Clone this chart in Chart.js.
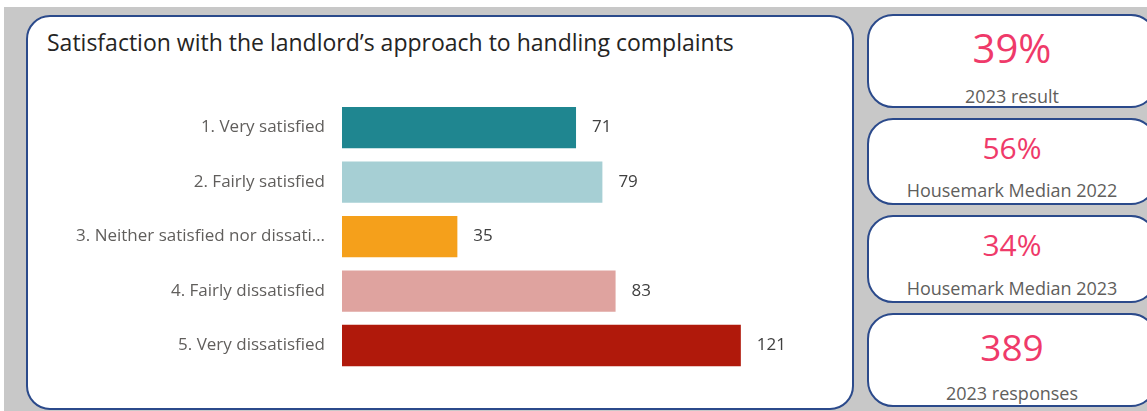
<!DOCTYPE html>
<html>
<head>
<meta charset="utf-8">
<script src="https://cdn.jsdelivr.net/npm/chart.js@4"></script>
<style>
  html, body { margin: 0; padding: 0; }
  body { width: 1147px; height: 411px; background: #fff; position: relative; overflow: hidden; font-family: "Open Sans", "Noto Sans", sans-serif; }
  .bg { position: absolute; left: 4px; top: 7px; width: 1143px; height: 404px; background: #c8c8c8; }
  .card { position: absolute; background: #fff; border: 2px solid #2b4a8b; box-sizing: border-box; }
  .main { left: 26px; top: 15px; width: 828px; height: 395px; border-radius: 24px; }
  .title { position: absolute; left: 47px; top: 31px; font-size: 23px; color: #252423; white-space: nowrap; line-height: 1; }
  .kpi { left: 867px; width: 290px; border-radius: 26px; }
  .kval, .klab { position: absolute; left: 867px; width: 290px; text-align: center; line-height: 1; white-space: nowrap; }
  .kval { color: #ef3a6a; }
  .klab { color: #605e5c; font-size: 18px; }
  #wrap { position: absolute; left: 28px; top: 70px; width: 800px; height: 330px; }
</style>
</head>
<body>
<div class="bg"></div>
<div class="card main"></div>
<div class="title">Satisfaction with the landlord’s approach to handling complaints</div>
<div id="wrap"><canvas id="chart1"></canvas></div>
<div id="kpis"></div>
<script>
var categories = [
  "1. Very satisfied",
  "2. Fairly satisfied",
  "3. Neither satisfied nor dissatisfied",
  "4. Fairly dissatisfied",
  "5. Very dissatisfied"
];
var counts = [71, 79, 35, 83, 121];
var barColors = ["#1f8690", "#a6cfd4", "#f5a01b", "#dfa39f", "#b0190b"];

var kpiValues = ["39%", "56%", "34%", "389"];
var kpiLabels = ["2023 result", "Housemark Median 2022", "Housemark Median 2023", "2023 responses"];

// card boxes and text placement for the kpi column
var kpiBoxes = [[14, 94], [118, 87], [215, 88], [313, 94]];
var kpiSizes = [40, 30, 30, 37];
var kpiValTop = [28, 133, 230, 328];
var kpiLabTop = [87, 181, 279, 384];

var html = "";
for (var i = 0; i < kpiValues.length; i++) {
  html += '<div class="card kpi" style="top:' + kpiBoxes[i][0] + 'px;height:' + kpiBoxes[i][1] + 'px"></div>';
  html += '<div class="kval" style="top:' + kpiValTop[i] + 'px;font-size:' + kpiSizes[i] + 'px">' + kpiValues[i] + '</div>';
  html += '<div class="klab" style="top:' + kpiLabTop[i] + 'px">' + kpiLabels[i] + '</div>';
}
document.getElementById("kpis").innerHTML = html;

// value labels at the end of each bar
var valueLabels = {
  id: "valueLabels",
  afterDatasetsDraw: function(chart) {
    var ctx = chart.ctx;
    var meta = chart.getDatasetMeta(0);
    ctx.save();
    ctx.font = '17px "Open Sans", sans-serif';
    ctx.fillStyle = "#404040";
    ctx.textAlign = "left";
    ctx.textBaseline = "middle";
    meta.data.forEach(function(bar, i) {
      ctx.fillText(counts[i], bar.x + 16, bar.y);
    });
    ctx.restore();
  }
};

new Chart(document.getElementById("chart1").getContext("2d"), {
  type: "bar",
  data: {
    labels: categories,
    datasets: [{
      data: counts,
      backgroundColor: barColors,
      borderWidth: 0,
      categoryPercentage: 1,
      barPercentage: 0.76
    }]
  },
  options: {
    indexAxis: "y",
    responsive: true,
    maintainAspectRatio: false,
    animation: false,
    layout: { padding: { top: 30.4, bottom: 23.4, left: 0, right: 57.5 } },
    plugins: { legend: { display: false }, tooltip: { enabled: false } },
    scales: {
      x: { display: false, min: 0, max: 130 },
      y: {
        grid: { display: false, drawTicks: false },
        border: { display: false },
        afterFit: function(axis) { axis.width = 314; },
        ticks: {
          padding: 17,
          color: "#605e5c",
          font: { family: '"Open Sans", sans-serif', size: 17 },
          callback: function(v) {
            var s = categories[v];
            return s.length > 33 ? s.slice(0, 32) + "…" : s;
          }
        }
      }
    }
  },
  plugins: [valueLabels]
});
</script>
</body>
</html>
